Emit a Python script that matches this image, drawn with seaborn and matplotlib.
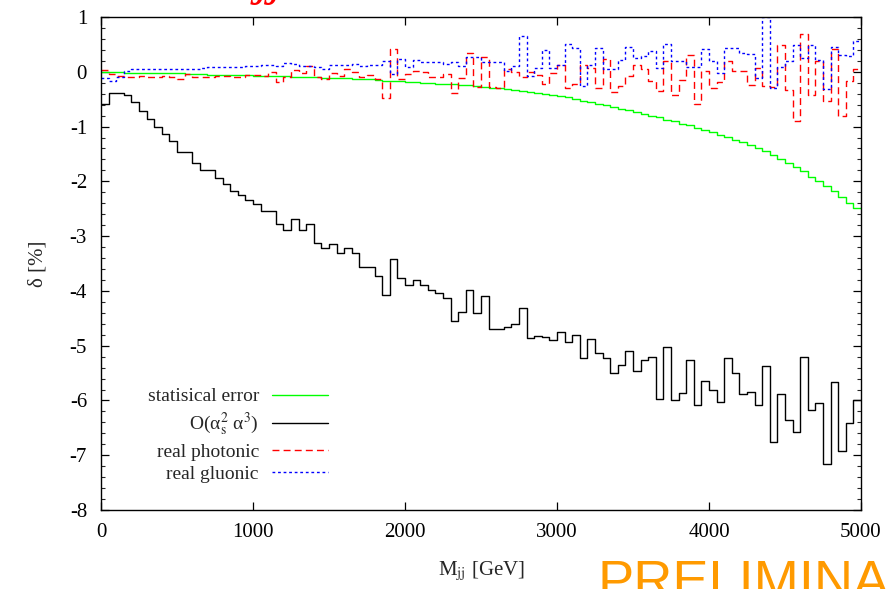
import numpy as np
import pandas as pd
import matplotlib
matplotlib.use("Agg")
import matplotlib.pyplot as plt
from matplotlib.ticker import MultipleLocator
import seaborn as sns

# ---------------- data ----------------
mjj_edges = np.arange(0, 5050, 50)  # 100 bins of 50 GeV

stat_error = [
    -0.01, -0.01, -0.01, -0.02, -0.02, -0.02, -0.02, -0.03, -0.03, -0.03,
    -0.03, -0.04, -0.04, -0.04, -0.05, -0.05, -0.05, -0.06, -0.06, -0.06,
    -0.07, -0.07, -0.08, -0.08, -0.08, -0.09, -0.09, -0.10, -0.10, -0.11,
    -0.11, -0.12, -0.12, -0.13, -0.14, -0.14, -0.15, -0.16, -0.16, -0.17,
    -0.18, -0.19, -0.20, -0.21, -0.22, -0.22, -0.23, -0.24, -0.25, -0.26,
    -0.28, -0.29, -0.30, -0.32, -0.33, -0.35, -0.36, -0.38, -0.40, -0.42,
    -0.438, -0.463, -0.493, -0.524, -0.554, -0.584, -0.615, -0.645, -0.676, -0.706,
    -0.737, -0.767, -0.804, -0.834, -0.871, -0.907, -0.944, -0.980, -1.023, -1.065,
    -1.108, -1.151, -1.193, -1.242, -1.285, -1.333, -1.388, -1.443, -1.516, -1.595,
    -1.656, -1.741, -1.820, -1.912, -1.985, -2.082, -2.174, -2.277, -2.387, -2.490,
]

order_as2a3 = [
    -0.58, -0.39, -0.39, -0.43, -0.55, -0.71, -0.86, -1.01, -1.14, -1.26,
    -1.46, -1.47, -1.66, -1.79, -1.79, -1.94, -2.05, -2.17, -2.25, -2.34,
    -2.41, -2.54, -2.54, -2.78, -2.88, -2.68, -2.88, -2.77, -3.13, -3.22,
    -3.15, -3.31, -3.21, -3.31, -3.57, -3.56, -3.73, -4.07, -3.42, -3.76,
    -3.90, -3.80, -3.90, -3.99, -4.04, -4.13, -4.55, -4.38, -3.99, -4.40,
    -4.09, -4.70, -4.69, -4.65, -4.61, -4.32, -4.86, -4.83, -4.84, -4.89,
    -4.75, -4.94, -4.80, -5.23, -4.87, -5.14, -5.23, -5.50, -5.35, -5.09,
    -5.46, -5.26, -5.20, -5.97, -5.02, -6.00, -5.87, -5.27, -6.09, -5.64,
    -5.81, -6.03, -5.22, -5.49, -5.88, -5.84, -6.08, -5.38, -6.76, -5.89,
    -6.35, -6.57, -5.21, -6.18, -6.05, -7.16, -5.67, -6.92, -6.42, -6.00,
]

real_photonic = [
    0.04, -0.04, -0.08, -0.09, -0.09, -0.08, -0.09, -0.09, -0.08, -0.09,
    -0.13, -0.04, -0.10, -0.10, -0.09, -0.07, -0.07, -0.10, -0.09, -0.06,
    -0.06, -0.07, -0.01, -0.19, -0.09, 0.04, -0.02, 0.11, -0.10, -0.13,
    -0.02, -0.07, 0.05, -0.01, -0.09, -0.06, -0.14, -0.48, 0.41, -0.13,
    -0.04, 0.02, 0.00, -0.10, -0.10, -0.04, -0.39, -0.12, 0.34, -0.27,
    0.27, -0.28, -0.29, 0.05, 0.00, -0.10, 0.00, -0.05, -0.23, -0.02,
    0.12, -0.30, -0.22, 0.13, 0.07, -0.30, 0.23, -0.37, -0.26, -0.07,
    0.13, 0.05, -0.16, -0.35, 0.19, -0.43, -0.15, 0.30, -0.58, 0.01,
    -0.30, -0.18, 0.19, 0.01, 0.02, -0.25, 0.07, -0.26, -0.27, 0.49,
    -0.34, -0.90, 0.69, -0.42, 0.20, -0.54, 0.42, -0.80, -0.16, 0.05,
]

real_gluonic = [
    -0.12, -0.16, -0.09, 0.01, 0.05, 0.05, 0.05, 0.06, 0.06, 0.06,
    0.05, 0.06, 0.06, 0.07, 0.09, 0.09, 0.09, 0.09, 0.09, 0.10,
    0.10, 0.12, 0.12, 0.10, 0.16, 0.15, 0.11, 0.11, 0.08, 0.05,
    0.12, 0.12, 0.13, 0.14, 0.11, 0.12, 0.13, 0.19, -0.04, 0.23,
    0.08, 0.22, 0.18, 0.17, 0.17, 0.15, 0.17, 0.10, 0.27, 0.27,
    0.18, 0.18, 0.18, 0.01, 0.10, 0.65, -0.08, 0.07, 0.39, 0.07,
    0.13, 0.51, 0.44, -0.26, 0.12, 0.44, 0.05, 0.05, 0.22, 0.46,
    0.25, 0.28, 0.38, 0.07, 0.51, 0.19, 0.20, 0.09, 0.09, 0.41,
    0.19, -0.02, 0.43, 0.43, 0.35, 0.32, -0.11, 1.00, -0.29, 0.09,
    0.19, 0.49, 0.26, 0.49, 0.21, -0.31, 0.46, 0.31, 0.28, 0.57,
]

labels = ["statisical error", r"O(α$_{\rm s}^{2}$ α$^{3}$)",
          "real photonic", "real gluonic"]
x_ticks = [0, 1000, 2000, 3000, 4000, 5000]
y_ticks = [1, 0, -1, -2, -3, -4, -5, -6, -7, -8]

# ---------------- style ----------------
sns.set_style("ticks")
plt.rcParams["font.family"] = ["Liberation Serif", "DejaVu Serif"]
plt.rcParams["mathtext.fontset"] = "stix"
plt.rcParams["axes.unicode_minus"] = False

fig = plt.figure(figsize=(8.89, 5.89), dpi=100)
ax = fig.add_axes([0.1136, 0.1341, 0.8549, 0.8370])


def step_frame(values):
    vals = list(values) + [values[-1]]
    return pd.DataFrame({"mjj": mjj_edges, "delta": vals})


lw = 1.0
sns.lineplot(data=step_frame(stat_error), x="mjj", y="delta", ax=ax,
             drawstyle="steps-post", color="#00ff00", lw=lw, estimator=None)
sns.lineplot(data=step_frame(order_as2a3), x="mjj", y="delta", ax=ax,
             drawstyle="steps-post", color="black", lw=lw, estimator=None)
sns.lineplot(data=step_frame(real_photonic), x="mjj", y="delta", ax=ax,
             drawstyle="steps-post", color="#ff0000", lw=lw, estimator=None,
             dashes=False, linestyle=(0, (5, 3)))
sns.lineplot(data=step_frame(real_gluonic), x="mjj", y="delta", ax=ax,
             drawstyle="steps-post", color="#0000ff", lw=lw, estimator=None,
             dashes=False, linestyle=(0, (2, 2)))

ax.set_xlim(0, 5000)
ax.set_ylim(-8, 1)
ax.set_xticks(x_ticks)
ax.set_xticklabels([str(t) for t in x_ticks])
ax.set_yticks(y_ticks)
ax.set_yticklabels([str(t) for t in y_ticks])
ax.yaxis.set_minor_locator(MultipleLocator(0.2))

for s in ax.spines.values():
    s.set_visible(True)
    s.set_linewidth(1.0)
    s.set_color("black")

ax.tick_params(axis="both", which="major", direction="in", length=6, width=0.9,
               top=True, right=True, labelsize=15, colors="black")
ax.tick_params(axis="y", which="minor", direction="in", length=3, width=0.8,
               left=True, right=True)
ax.tick_params(axis="x", which="major", pad=9)
ax.tick_params(axis="y", which="major", pad=10)

ax.set_xlabel(r"M$_{\rm jj}$ [GeV]", fontsize=15, labelpad=13)
ax.set_ylabel("δ [%]", fontsize=15, labelpad=16)
ax.grid(False)

handles = ax.get_lines()[:4]
leg = ax.legend(handles, labels, loc="upper right",
                bbox_to_anchor=(0.2987, 0.248), bbox_transform=ax.transAxes,
                frameon=False, markerfirst=False, fontsize=14,
                handlelength=2.9, handletextpad=0.65, labelspacing=0.26,
                borderpad=0, borderaxespad=0)

# clipped title fragment and preliminary stamp
fig.text(256 / 889, 1 + 6 / 589, "jj", color="red", style="italic",
         fontsize=38, va="baseline", ha="left", family="Liberation Serif")
fig.text(597 / 889, -9 / 589, "PRELIMINARY", color="#ff9a00",
         fontsize=39, va="baseline", ha="left", family="Liberation Sans")

fig.savefig("out.png", dpi=100)
